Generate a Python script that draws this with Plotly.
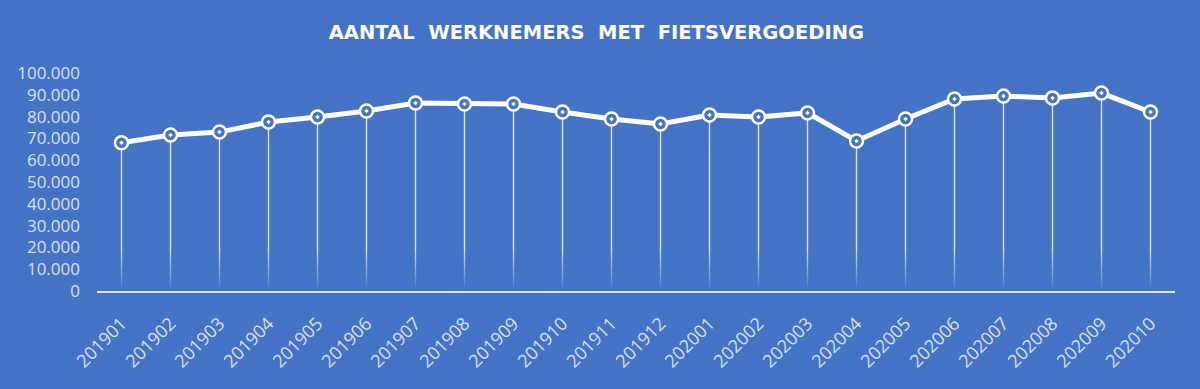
import plotly.graph_objects as go

categories = ["201901", "201902", "201903", "201904", "201905", "201906", "201907",
              "201908", "201909", "201910", "201911", "201912", "202001", "202002",
              "202003", "202004", "202005", "202006", "202007", "202008", "202009",
              "202010"]
werknemers = [68000, 71600, 72900, 77500, 79800, 82600, 86200, 85800, 85800, 82100,
              78900, 76600, 80700, 79800, 81700, 68800, 78900, 88100, 89400, 88500,
              90800, 82100]
y_ticks = [0, 10000, 20000, 30000, 40000, 50000, 60000, 70000, 80000, 90000, 100000]
y_labels = ["0", "10.000", "20.000", "30.000", "40.000", "50.000", "60.000",
            "70.000", "80.000", "90.000", "100.000"]

BG = "#4472C4"
LABEL = "#D9E1F2"

fig = go.Figure()

# drop lines
fig.add_trace(go.Scatter(
    x=categories, y=werknemers, mode="markers",
    marker=dict(size=0.1, color="rgba(0,0,0,0)"),
    error_y=dict(type="data", symmetric=False, array=[0] * len(werknemers),
                 arrayminus=werknemers, width=0, thickness=1.4,
                 color="rgba(255,255,255,0.8)"),
    hoverinfo="skip", showlegend=False,
))

# fade of the drop lines near the base
fig.add_trace(go.Scatter(
    x=[-0.5, len(categories) - 0.5, len(categories) - 0.5, -0.5],
    y=[0, 0, 20000, 20000],
    xaxis="x2", mode="lines", line=dict(width=0), fill="toself",
    fillgradient=dict(type="vertical",
                      colorscale=[[0, "rgba(68,114,196,1)"], [1, "rgba(68,114,196,0)"]]),
    hoverinfo="skip", showlegend=False,
))

# main line
fig.add_trace(go.Scatter(
    x=categories, y=werknemers, mode="lines+markers",
    line=dict(color="white", width=5),
    marker=dict(symbol="circle-dot", size=13, color=BG,
                line=dict(color="white", width=2.5)),
    showlegend=False,
))

fig.update_layout(
    width=1200, height=389,
    paper_bgcolor=BG, plot_bgcolor=BG,
    margin=dict(l=97, r=25, t=73, b=98),
    title=dict(text="AANTAL  WERKNEMERS  MET  FIETSVERGOEDING",
               x=0.497, xanchor="center", y=0.918, yanchor="middle",
               font=dict(family="DejaVu Sans", size=19.5, color="white", weight="bold")),
    font=dict(family="Open Sans", color=LABEL),
    xaxis=dict(type="category", categoryorder="array", categoryarray=categories,
               range=[-0.5, len(categories) - 0.5], automargin=False,
               showgrid=False, zeroline=False, showline=True,
               linecolor="rgba(230,236,248,0.95)", linewidth=2,
               tickangle=-45, tickfont=dict(size=18, color=LABEL), ticks="",
               ticklabelstandoff=13),
    xaxis2=dict(overlaying="x", range=[-0.5, len(categories) - 0.5], visible=False),
    yaxis=dict(range=[0, 100000], tickvals=y_ticks, ticktext=y_labels, automargin=False,
               showgrid=False, zeroline=False, showline=False,
               tickfont=dict(size=17, color=LABEL), ticks="", ticklabelstandoff=16),
)

fig.write_html("out.html", config={"displayModeBar": False},
               post_script="document.body.style.margin='0';")
